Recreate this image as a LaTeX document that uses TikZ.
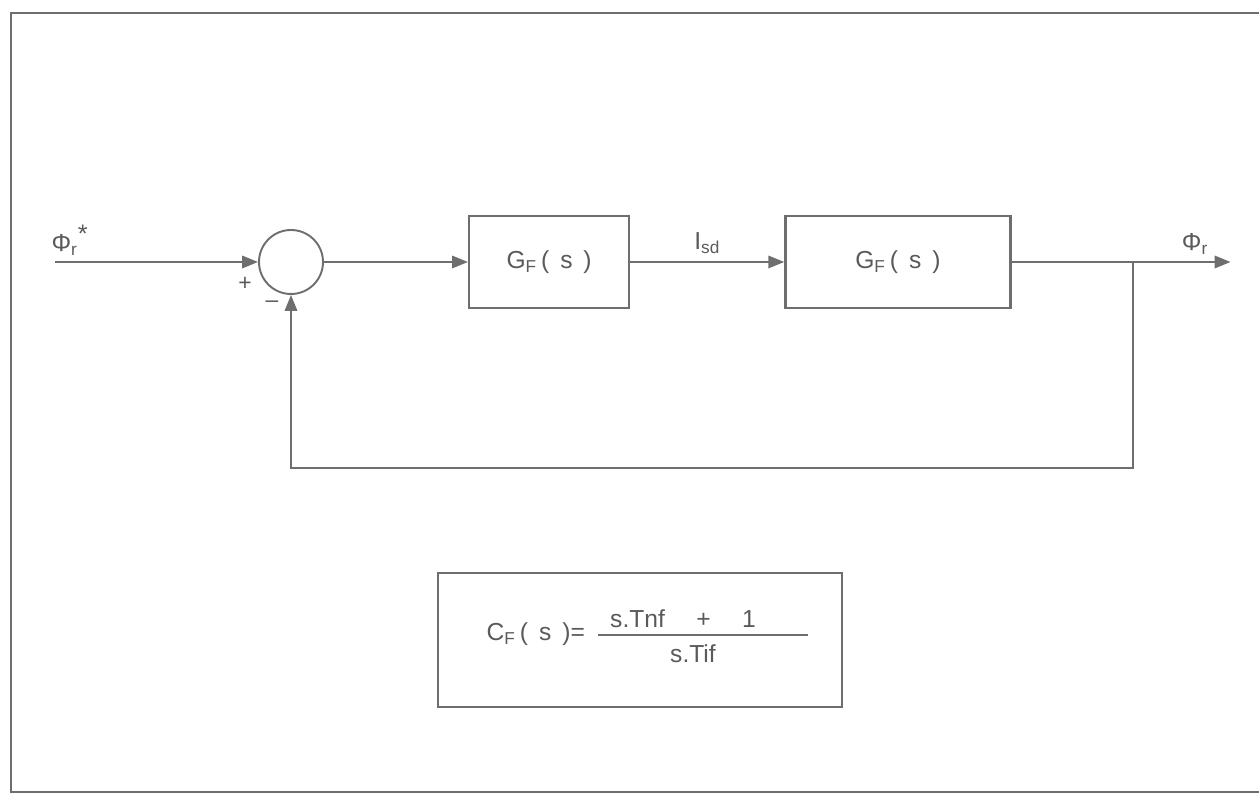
\documentclass[tikz,border=0pt]{standalone}
\usepackage{fontspec}
\setmainfont{Liberation Sans}
\usetikzlibrary{positioning,arrows.meta}
\definecolor{InkGray}{RGB}{110,110,110}
\definecolor{TextGray}{RGB}{90,90,90}
\tikzset{
  gbox/.style={draw=InkGray,line width=1.3pt,minimum width=3.2cm,
               minimum height=1.84cm,font=\fontsize{14}{16}\selectfont,
               text=TextGray},
  sumnode/.style={circle,draw=InkGray,line width=1.1pt,
                  minimum size=1.28cm,inner sep=0pt},
  fbox/.style={draw=InkGray,line width=1.3pt,minimum width=8.08cm,
               minimum height=2.68cm},
  arr/.style={-{Triangle[length=9pt,width=7pt]},InkGray,line width=1.2pt},
  wire/.style={InkGray,line width=1.2pt},
  lbl/.style={font=\fontsize{14}{16}\selectfont,text=TextGray,inner sep=1pt},
}

\begin{document}
\begin{tikzpicture}[
    node distance=2.88cm,
    sign/.style={font=\fontsize{13}{15}\selectfont,text=TextGray}
  ]
    \useasboundingbox (0,0) rectangle (25.18,15.88);
    % page frame (right side runs off the sheet)
    \draw[wire,line width=1.4pt] (25.18,15.62) -- (0.22,15.62) -- (0.22,0.04) -- (25.18,0.04);

    % loop
    \coordinate (in) at (1.1,10.64);
    \node[sumnode] (sum) at (5.82,10.64) {};
    \node[gbox, right=of sum] (gf1) {G\textsubscript{F}\,(\, s \,)};
    \node[gbox, minimum width=4.5cm, right=3.08cm of gf1] (gf2) {G\textsubscript{F}\,(\, s \,)};
    \coordinate (branch) at ([xshift=2.42cm]gf2.east);
    \coordinate (out) at ([xshift=4.38cm]gf2.east);

    \draw[arr] (in) -- (sum);
    \draw[arr] (sum) -- (gf1);
    \draw[arr] (gf1) -- node[lbl, above=3pt] {I\textsubscript{sd}} (gf2);
    \draw[arr] (gf2) -- (out);
    \draw[arr] (branch) -- ++(0,-4.12) -| (sum.south);

    \node[lbl] (ref) at (1.4,11.08) {Φ\textsubscript{r}\textsuperscript{\Large *}};
    \node[lbl] (act) at (23.9,11.0) {Φ\textsubscript{r}};
    \node[sign] (plus) at (4.9,10.2) {+};
    \node[sign] (minus) at (5.44,9.8) {--};

    % controller law
    \node[fbox] (cfbox) at (12.8,3.08) {};
    \node[lbl, anchor=east] (cf) at (11.74,3.2) {C\textsubscript{F}\,(\, s \,)=};
    \node[lbl] (num) at (13.66,3.5) {s.Tnf \quad + \quad 1};
    \node[lbl] (den) at (13.86,2.8) {s.Tif};
    \draw[wire] ([xshift=0.22cm,yshift=-0.02cm]cf.east) -- ++(4.2,0);
\end{tikzpicture}
\end{document}
